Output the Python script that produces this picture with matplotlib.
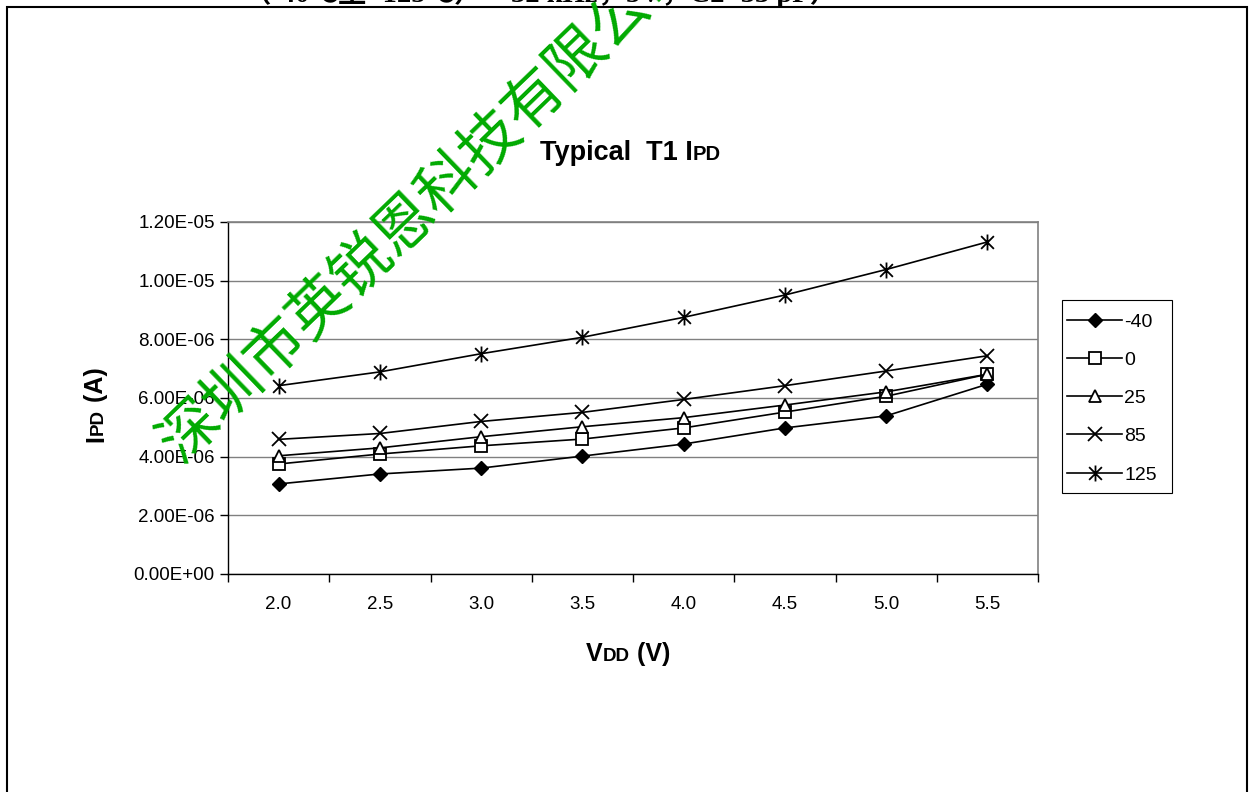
import numpy as np
import matplotlib
matplotlib.use("Agg")
import matplotlib.pyplot as plt
from matplotlib.path import Path
from matplotlib.patches import Rectangle
from matplotlib.transforms import IdentityTransform
from matplotlib.ticker import FuncFormatter, FixedLocator

plt.rcParams['font.family'] = ['Liberation Sans', 'DejaVu Sans']

# data
vdd = ["2.0", "2.5", "3.0", "3.5", "4.0", "4.5", "5.0", "5.5"]
temps = ["-40", "0", "25", "85", "125"]
ipd_m40 = [3.07e-6, 3.41e-6, 3.61e-6, 4.02e-6, 4.43e-6, 4.98e-6, 5.39e-6, 6.47e-6]
ipd_0 = [3.75e-6, 4.09e-6, 4.37e-6, 4.60e-6, 4.98e-6, 5.52e-6, 6.06e-6, 6.81e-6]
ipd_25 = [4.03e-6, 4.30e-6, 4.68e-6, 5.02e-6, 5.33e-6, 5.76e-6, 6.21e-6, 6.81e-6]
ipd_85 = [4.59e-6, 4.79e-6, 5.20e-6, 5.51e-6, 5.95e-6, 6.42e-6, 6.92e-6, 7.44e-6]
ipd_125 = [6.42e-6, 6.89e-6, 7.51e-6, 8.07e-6, 8.75e-6, 9.51e-6, 10.38e-6, 11.32e-6]
yticks = [0, 2e-6, 4e-6, 6e-6, 8e-6, 10e-6, 12e-6]

W, H = 1250, 792
fig = plt.figure(figsize=(W / 100, H / 100), dpi=100)
ax = fig.add_axes([228 / W, 1 - 574 / H, (1038 - 228) / W, (574 - 222) / H])

# excel style asterisk: x plus a vertical bar
star = Path([(0, -1), (0, 1), (-0.8, -0.8), (0.8, 0.8), (-0.8, 0.8), (0.8, -0.8)],
            [Path.MOVETO, Path.LINETO, Path.MOVETO, Path.LINETO, Path.MOVETO, Path.LINETO])

x = np.arange(len(vdd))
styles = [
    (ipd_m40, dict(marker='D', ms=7, mfc='black', mec='black')),
    (ipd_0, dict(marker='s', ms=8.5, mfc='white', mec='black', mew=1.3)),
    (ipd_25, dict(marker='^', ms=8.5, mfc='white', mec='black', mew=1.3)),
    (ipd_85, dict(marker='x', ms=9.5, mec='black', mew=1.3)),
    (ipd_125, dict(marker=star, ms=11.5, mfc='none', mec='black', mew=1.3)),
]
for (vals, st), lab in zip(styles, temps):
    ax.plot(x, vals, color='black', lw=1.2, label=lab, **st)

ax.set_xlim(-0.5, len(vdd) - 0.5)
ax.set_ylim(0, 1.2e-5)
ax.set_xticks(x)
ax.set_xticklabels(vdd)
ax.xaxis.set_minor_locator(FixedLocator(np.arange(-0.5, len(vdd), 1.0)))
ax.tick_params(axis='x', which='major', length=0, pad=16, labelsize=13.5)
ax.tick_params(axis='x', which='minor', length=6, width=1, color='black', direction='out')
ax.set_yticks(yticks)
ax.yaxis.set_major_formatter(FuncFormatter(lambda v, p: f"{v:.2E}"))
ax.tick_params(axis='y', length=6, width=1, direction='out', pad=3.5, labelsize=13.5)
ax.grid(axis='y', color='#808080', lw=1.0)
ax.set_axisbelow(True)
for s in ['top', 'right']:
    ax.spines[s].set_color('#808080')
    ax.spines[s].set_linewidth(1.2)
for s in ['left', 'bottom']:
    ax.spines[s].set_color('black')
    ax.spines[s].set_linewidth(1.0)

# legend without its own frame, box drawn separately so padding matches
leg = fig.legend(loc='upper left', bbox_to_anchor=(1067 / W, 1 - 313 / H), fontsize=14,
                 handlelength=2.85, handletextpad=0.1, labelspacing=1.06, borderpad=0,
                 borderaxespad=0, frameon=False)
fig.add_artist(Rectangle((1062, H - 493), 110, 193, transform=IdentityTransform(),
                         fill=False, ec='black', lw=0.8))

renderer = fig.canvas.get_renderer()


def rich(parts, px, py, rot=0):
    # draw text pieces of mixed size one after another, pixel coords from top-left
    dx, dy = px, H - py
    for txt, size in parts:
        t = fig.text(dx, dy, txt, transform=IdentityTransform(), fontsize=size,
                     fontweight='bold', rotation=rot, rotation_mode='anchor',
                     ha='left', va='baseline')
        bb = t.get_window_extent(renderer)
        if rot == 0:
            dx += bb.width
        else:
            dy += bb.height


rich([("Typical  T1 I", 19.5), ("PD", 14.5)], 540, 160)
rich([("V", 18), ("DD", 13.5), (" (V)", 18)], 586, 661)
rich([("I", 18), ("PD", 13.5), (" (A)", 18)], 103, 442, rot=90)

# header line cut off at the top of the page
fig.text(243, H - 1.5, "（-40℃至+125℃）　32 kHz，5V，C2=33 pF）", transform=IdentityTransform(),
         fontsize=20.5, fontweight='bold', family=['Liberation Serif', 'Noto Sans CJK SC'],
         ha='left', va='baseline')

# page frame
fig.add_artist(Rectangle((7, -20), 1240, H - 7 + 20, transform=IdentityTransform(),
                         fill=False, ec='black', lw=1.5))

# watermark
fig.text(170 / W, 1 - 452 / H, "深圳市英锐恩科技有限公司", rotation=44, rotation_mode='anchor',
         ha='left', va='center', fontsize=43, color='#00AA00',
         family=['Noto Sans CJK SC', 'DejaVu Sans'], zorder=10)

fig.savefig("out.png", dpi=100)
